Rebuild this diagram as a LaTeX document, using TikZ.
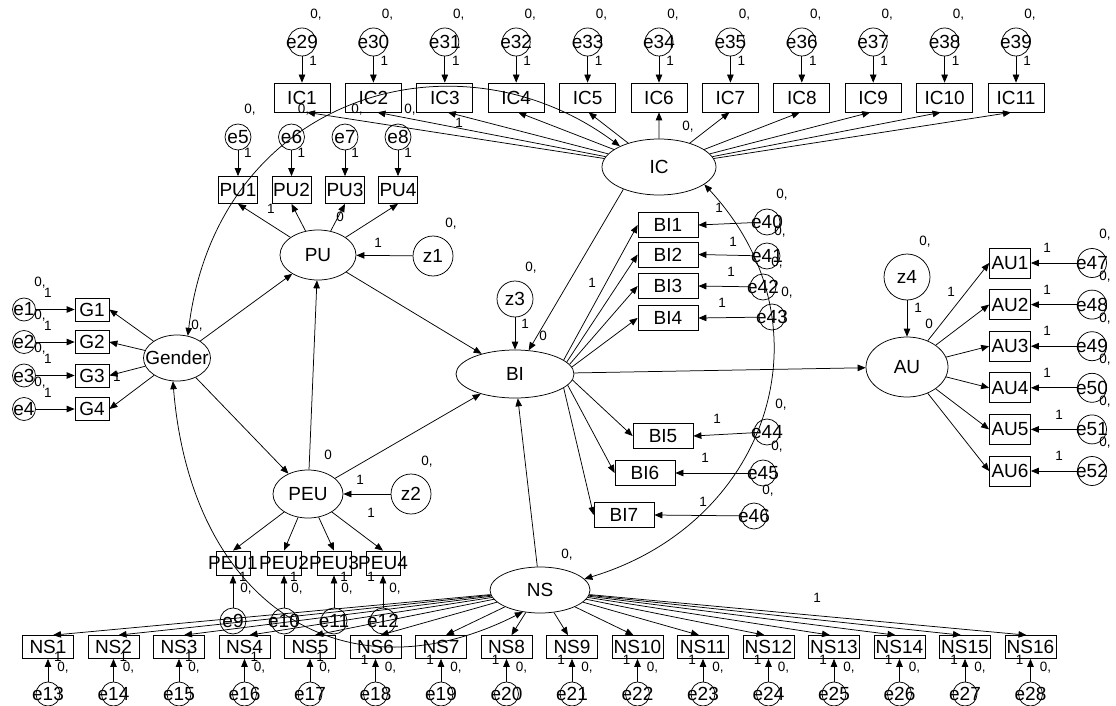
\documentclass[tikz,border=0pt]{standalone}
\usepackage{fontspec}
\setmainfont{Liberation Sans}
\usetikzlibrary{shapes.geometric,arrows.meta,calc}
\newcommand{\mbx}[1]{\makebox[0pt]{#1}}
\begin{document}
\begin{tikzpicture}[x=1pt,y=-1pt,
  every node/.style={font=\fontsize{19}{20}\selectfont, inner sep=0pt},
  lat/.style={ellipse,draw,line width=0.75pt},
  obs/.style={rectangle,draw,line width=0.75pt},
  err/.style={circle,draw,line width=0.75pt},
  lbl/.style={font=\fontsize{13.5}{14}\selectfont},
  arr/.style={-{Triangle[length=8pt,width=6.5pt]},line width=0.75pt},
  cov/.style={{Triangle[length=8pt,width=6.5pt]}-{Triangle[length=8pt,width=6.5pt]},line width=0.75pt}
]
\useasboundingbox (0,0) rectangle (1116,706);

% ---------- latent variables ----------
\node[lat,minimum width=114pt,minimum height=56pt] (IC) at (659,167) {\mbx{IC}};
\node[lat,minimum width=76pt,minimum height=50pt] (PU) at (318,255) {\mbx{PU}};
\node[lat,minimum width=67pt,minimum height=46pt] (Gender) at (177,358) {\mbx{Gender}};
\node[lat,minimum width=70pt,minimum height=48pt] (PEU) at (308,494) {\mbx{PEU}};
\node[lat,minimum width=118pt,minimum height=48pt] (BI) at (515,374) {\mbx{BI}};
\node[lat,minimum width=100pt,minimum height=46pt] (NS) at (540,590) {\mbx{NS}};
\node[lat,minimum width=82pt,minimum height=60pt] (AU) at (907,367) {\mbx{AU}};

% ---------- disturbances ----------
\node[err,minimum size=40pt] (z1) at (433,256) {\mbx{z1}};
\node[err,minimum size=40pt] (z2) at (411,494) {\mbx{z2}};
\node[err,minimum size=36pt] (z3) at (515,299) {\mbx{z3}};
\node[err,minimum size=46pt] (z4) at (907,277) {\mbx{z4}};
\draw[arr] (z1) -- (PU);
\draw[arr] (z2) -- (PEU);
\draw[arr] (z3) -- (BI);
\draw[arr] (z4) -- (AU);
\node[lbl] at (451,224) {0,};
\node[lbl] at (378,243) {1};
\node[lbl] at (427,462) {0,};
\node[lbl] at (360,480) {1};
\node[lbl] at (531,268) {0,};
\node[lbl] at (525,324) {1};
\node[lbl] at (543,336) {0};
\node[lbl] at (925,242) {0,};
\node[lbl] at (918,308) {1};
\node[lbl] at (929,324) {0};

% ---------- IC indicators ----------
\foreach \k in {1,...,11} {
  \pgfmathsetmacro{\x}{302+71.4*(\k-1)}
  \pgfmathtruncatemacro{\e}{28+\k}
  \pgfmathsetmacro{\s}{6-\k}
  \node[obs,minimum width=56pt,minimum height=29pt] (IC\k) at (\x,97.5) {\mbx{IC\k}};
  \node[err,minimum size=28pt] (e\e) at (\x,42) {\mbx{e\e}};
  \draw[arr] (e\e) -- (IC\k);
  \draw[arr] (IC) -- ($(IC\k.south)+(\s,0)$);
  \node[lbl] at (\x+14,15) {0,};
  \node[lbl] at (\x+11,61) {1};
}
\node[lbl] at (688,127) {0,};
\node[lbl] at (459,123) {1};

% ---------- PU indicators ----------
\foreach \k/\x in {1/238,2/291.5,3/345,4/398} {
  \pgfmathtruncatemacro{\e}{\k+4}
  \node[obs,minimum width=39pt,minimum height=27pt] (PU\k) at (\x,190) {\mbx{PU\k}};
  \node[err,minimum size=26pt] (e\e) at (\x,137) {\mbx{e\e}};
  \draw[arr] (e\e) -- (PU\k);
  \draw[arr] (PU) -- (PU\k.south);
  \node[lbl] at (\x+12,110) {0,};
  \node[lbl] at (\x+10,153) {1};
}
\node[lbl] at (271,209) {1};
\node[lbl] at (340,217) {0};

% ---------- Gender indicators ----------
\foreach \k/\y in {1/309.5,2/342,3/375.5,4/409} {
  \node[obs,minimum width=34pt,minimum height=23pt] (G\k) at (92,\y) {\mbx{G\k}};
  \node[err,minimum size=23pt] (e\k) at (24,\y) {\mbx{e\k}};
  \draw[arr] (e\k) -- (G\k);
  \draw[arr] (Gender) -- (G\k.east);
  \node[lbl] at (40,\y-26.5) {0,};
  \node[lbl] at (48,\y-16.5) {1};
}
\node[lbl] at (197,326) {0,};
\node[lbl] at (117,377) {1};

% ---------- PEU indicators ----------
\foreach \k/\x in {1/233,2/284,3/334,4/383} {
  \pgfmathtruncatemacro{\e}{\k+8}
  \node[obs,minimum width=34pt,minimum height=24pt] (PEU\k) at (\x,563) {\mbx{PEU\k}};
  \node[err,minimum size=26pt] (e\e) at (\x,621) {\mbx{e\e}};
  \draw[arr] (e\e) -- (PEU\k);
  \draw[arr] (PEU) -- (PEU\k.north);
}
\foreach \x in {233,284,334} {
  \node[lbl] at (\x+10,577) {1};
  \node[lbl] at (\x+13,589) {0,};
}
\node[lbl] at (371,577) {1};
\node[lbl] at (395,589) {0,};
\node[lbl] at (328,455) {0};
\node[lbl] at (371,513) {1};

% ---------- NS indicators ----------
\foreach \k in {1,...,16} {
  \pgfmathsetmacro{\x}{48+65.5*(\k-1)}
  \pgfmathtruncatemacro{\e}{12+\k}
  \pgfmathsetmacro{\s}{ifthenelse(\k<9,5,-4)}
  \pgfmathsetmacro{\lx}{ifthenelse(\k<6,10,-11)}
  \pgfmathsetmacro{\ly}{ifthenelse(\k<6,657,660)}
  \node[obs,minimum width=51pt,minimum height=23pt] (NS\k) at (\x,647) {\mbx{NS\k}};
  \node[err,minimum size=24pt] (e\e) at (\x,694) {\mbx{e\e}};
  \draw[arr] (e\e) -- (NS\k);
  \draw[arr] (NS) -- ($(NS\k.north)+(\s,0)$);
  \node[lbl] at (\x+15,668) {0,};
  \node[lbl] at (\x+\lx,\ly) {1};
}
\node[lbl] at (567,555) {0,};
\node[lbl] at (817,598) {1};

% ---------- BI indicators ----------
\foreach \k/\x/\y/\ex/\ey/\a/\lx/\ly/\zx/\zy in {
  1/668/225/767/222/16/719/208/782/195,
  2/668/254.5/767/256/13/733/242/780/232,
  3/668/286/763/287/10/731/272/777/263,
  4/668/318/772/317/7/722/303/787/293,
  5/663/436/767/432/-6/717/419/781/405,
  6/645/473/763/473/-12/705/458/777/447,
  7/624/515/754/516/-16/703/502/768/491} {
  \pgfmathtruncatemacro{\e}{\k+39}
  \node[obs,minimum width=60pt,minimum height=25pt] (BI\k) at (\x,\y) {\mbx{BI\k}};
  \node[err,minimum size=26pt] (e\e) at (\ex,\ey) {\mbx{e\e}};
  \draw[arr] (e\e) -- (BI\k.east);
  \draw[arr] (BI.\a) -- (BI\k.west);
  \node[lbl] at (\lx,\ly) {1};
  \node[lbl] at (\zx,\zy) {0,};
}
\node[lbl] at (592,283) {1};

% ---------- AU indicators ----------
\foreach \k in {1,...,6} {
  \pgfmathsetmacro{\y}{263+41.6*(\k-1)}
  \pgfmathtruncatemacro{\e}{46+\k}
  \pgfmathsetmacro{\lx}{ifthenelse(\k<5,1047,1059)}
  \node[obs,minimum width=41pt,minimum height=30pt] (AU\k) at (1010,\y) {\mbx{AU\k}};
  \node[err,minimum size=29pt] (e\e) at (1092,\y) {\mbx{e\e}};
  \draw[arr] (e\e) -- (AU\k);
  \draw[arr] (AU) -- (AU\k.west);
  \node[lbl] at (1105,\y-28) {0,};
  \node[lbl] at (\lx,\y-15) {1};
}
\node[lbl] at (951,292) {1};

% ---------- structural paths ----------
\draw[arr] (Gender) -- (PU);
\draw[arr] (Gender) -- (PEU);
\draw[arr] (PEU) -- (PU);
\draw[arr] (PU) -- (BI);
\draw[arr] (PEU) -- (BI);
\draw[arr] (NS) -- (BI);
\draw[arr] (IC.212) -- (BI.60);
\draw[arr] (BI) -- (AU);

% ---------- covariances ----------
\draw[cov] (IC.152) .. controls (457,25) and (217,95) .. (Gender.64);
\draw[cov] (Gender.-100) .. controls (191,603) and (342,703) .. (NS.232);
\draw[cov] (IC.-21) .. controls (834,324) and (770,523) .. (NS.14);
\end{tikzpicture}
\end{document}
